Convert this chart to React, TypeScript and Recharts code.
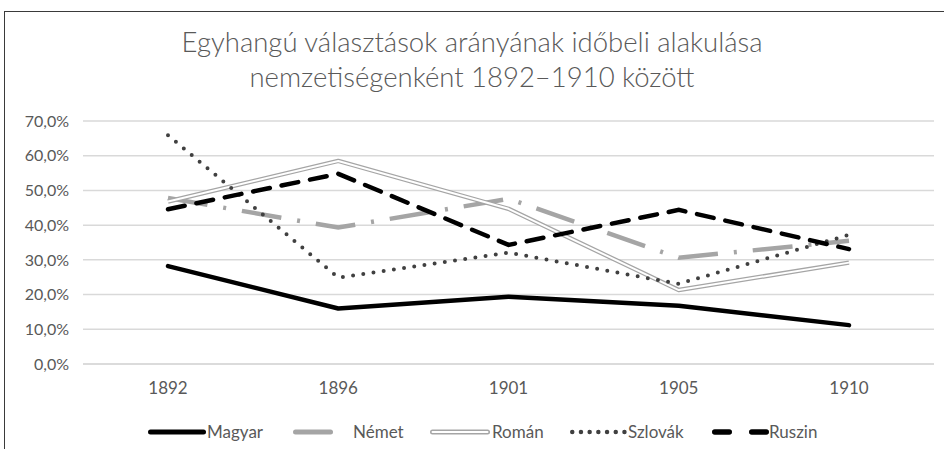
import { LineChart, Line, XAxis, YAxis, CartesianGrid } from 'recharts';

const YEARS = ['1892', '1896', '1901', '1905', '1910'];
const MAGYAR = [28.2, 16.0, 19.4, 16.8, 11.2];
const NEMET = [47.8, 39.3, 47.6, 30.6, 35.5];
const ROMAN = [46.8, 58.5, 44.7, 21.3, 29.2];
const SZLOVAK = [65.9, 24.9, 32.1, 23.1, 37.2];
const RUSZIN = [44.6, 54.8, 34.3, 44.4, 33.1];
const Y_TICKS = [0, 10, 20, 30, 40, 50, 60, 70];

const TEXT = '#595959';
const FONT = 'Lato, "Open Sans", sans-serif';

const data = YEARS.map((y, i) => ({
  year: y,
  Magyar: MAGYAR[i],
  Német: NEMET[i],
  Román: ROMAN[i],
  Szlovák: SZLOVAK[i],
  Ruszin: RUSZIN[i],
}));

const pct = (v: number) => `${v.toFixed(1).replace('.', ',')}%`;

// legend: sample x, sample width, text x
const LEGEND = [
  { name: 'Magyar', x: 148, w: 58, tx: 207, stroke: '#000000', width: 5, dash: undefined as string | undefined, cap: 'round' },
  { name: 'Német', x: 293, w: 40, tx: 353, stroke: '#a5a5a5', width: 5, dash: undefined, cap: 'round' },
  { name: 'Román', x: 430, w: 60, tx: 492, stroke: '#a5a5a5', width: 5, dash: undefined, cap: 'round', double: true },
  { name: 'Szlovák', x: 570, w: 57, tx: 628, stroke: '#404040', width: 4.5, dash: '0 8.7', cap: 'round' },
  { name: 'Ruszin', x: 712, w: 57, tx: 769, stroke: '#000000', width: 5.5, dash: '14.5 22.5', cap: 'round' },
];

function LegendBox() {
  return (
    <div style={{ position: 'absolute', left: 0, top: 420, width: 944, height: 24, fontFamily: FONT, fontSize: 17, color: TEXT }}>
      {LEGEND.map((l: any) => (
        <div key={l.name}>
          <svg width={l.w + 6} height={12} style={{ position: 'absolute', left: l.x - 3, top: 6 }}>
            <line x1={3 + l.width / 2} y1={6} x2={3 + l.w - l.width / 2} y2={6} stroke={l.stroke} strokeWidth={l.width}
              strokeDasharray={l.dash} strokeLinecap={l.cap} />
            {l.double && <line x1={3 + l.width / 2} y1={6} x2={3 + l.w - l.width / 2} y2={6} stroke="#fff" strokeWidth={2} strokeLinecap="round" />}
          </svg>
          <span style={{ position: 'absolute', left: l.tx, top: 1, lineHeight: '22px' }}>{l.name}</span>
        </div>
      ))}
    </div>
  );
}

export default function App() {
  return (
    <div style={{ position: 'absolute', left: 0, top: 0, width: 944, height: 449, overflow: 'hidden', background: '#fff' }}>
      <div style={{ position: 'absolute', left: 4, top: 11, width: 980, height: 480, border: '1px solid #3a3a3a' }} />
      <div style={{ position: 'absolute', left: 0, top: 24, width: 944, textAlign: 'center', fontFamily: FONT, fontWeight: 300, fontSize: 27.5, lineHeight: '35px', color: TEXT }}>
        Egyhangú választások arányának időbeli alakulása<br />nemzetiségenként 1892–1910 között
      </div>
      <div style={{ position: 'absolute', left: 0, top: 0 }}>
        <LineChart width={944} height={449} data={data} margin={{ top: 121, right: 10, left: 0, bottom: 0 }}>
          <CartesianGrid vertical={false} stroke="#d9d9d9" strokeWidth={1.5} />
          <XAxis dataKey="year" padding={{ left: 85, right: 85 }} tickLine={false}
            axisLine={{ stroke: '#d9d9d9', strokeWidth: 1.5 }} tickMargin={12}
            tick={{ fill: TEXT, fontSize: 17, fontFamily: FONT }} height={85} />
          <YAxis domain={[0, 70]} ticks={Y_TICKS} interval={0} width={83} tickFormatter={pct} tickLine={false}
            axisLine={false} tickMargin={8} tick={{ fill: TEXT, fontSize: 16, fontFamily: FONT }} />
          <Line dataKey="Magyar" stroke="#000000" strokeWidth={4.5} dot={false} isAnimationActive={false} strokeLinecap="round" strokeLinejoin="round" />
          <Line dataKey="Német" stroke="#a5a5a5" strokeWidth={4.5} dot={false} isAnimationActive={false} strokeDasharray="40 16 3 16" />
          <Line dataKey="Román" stroke="#a5a5a5" strokeWidth={4.5} dot={false} isAnimationActive={false} strokeLinejoin="round" />
          <Line dataKey="Román" stroke="#ffffff" strokeWidth={2} dot={false} isAnimationActive={false} strokeLinejoin="round" />
          <Line dataKey="Szlovák" stroke="#404040" strokeWidth={4} dot={false} isAnimationActive={false} strokeDasharray="0 10.3" strokeLinecap="round" />
          <Line dataKey="Ruszin" stroke="#000000" strokeWidth={4.5} dot={false} isAnimationActive={false} strokeDasharray="17 12" strokeLinecap="round" />
        </LineChart>
      </div>
      <LegendBox />
    </div>
  );
}
